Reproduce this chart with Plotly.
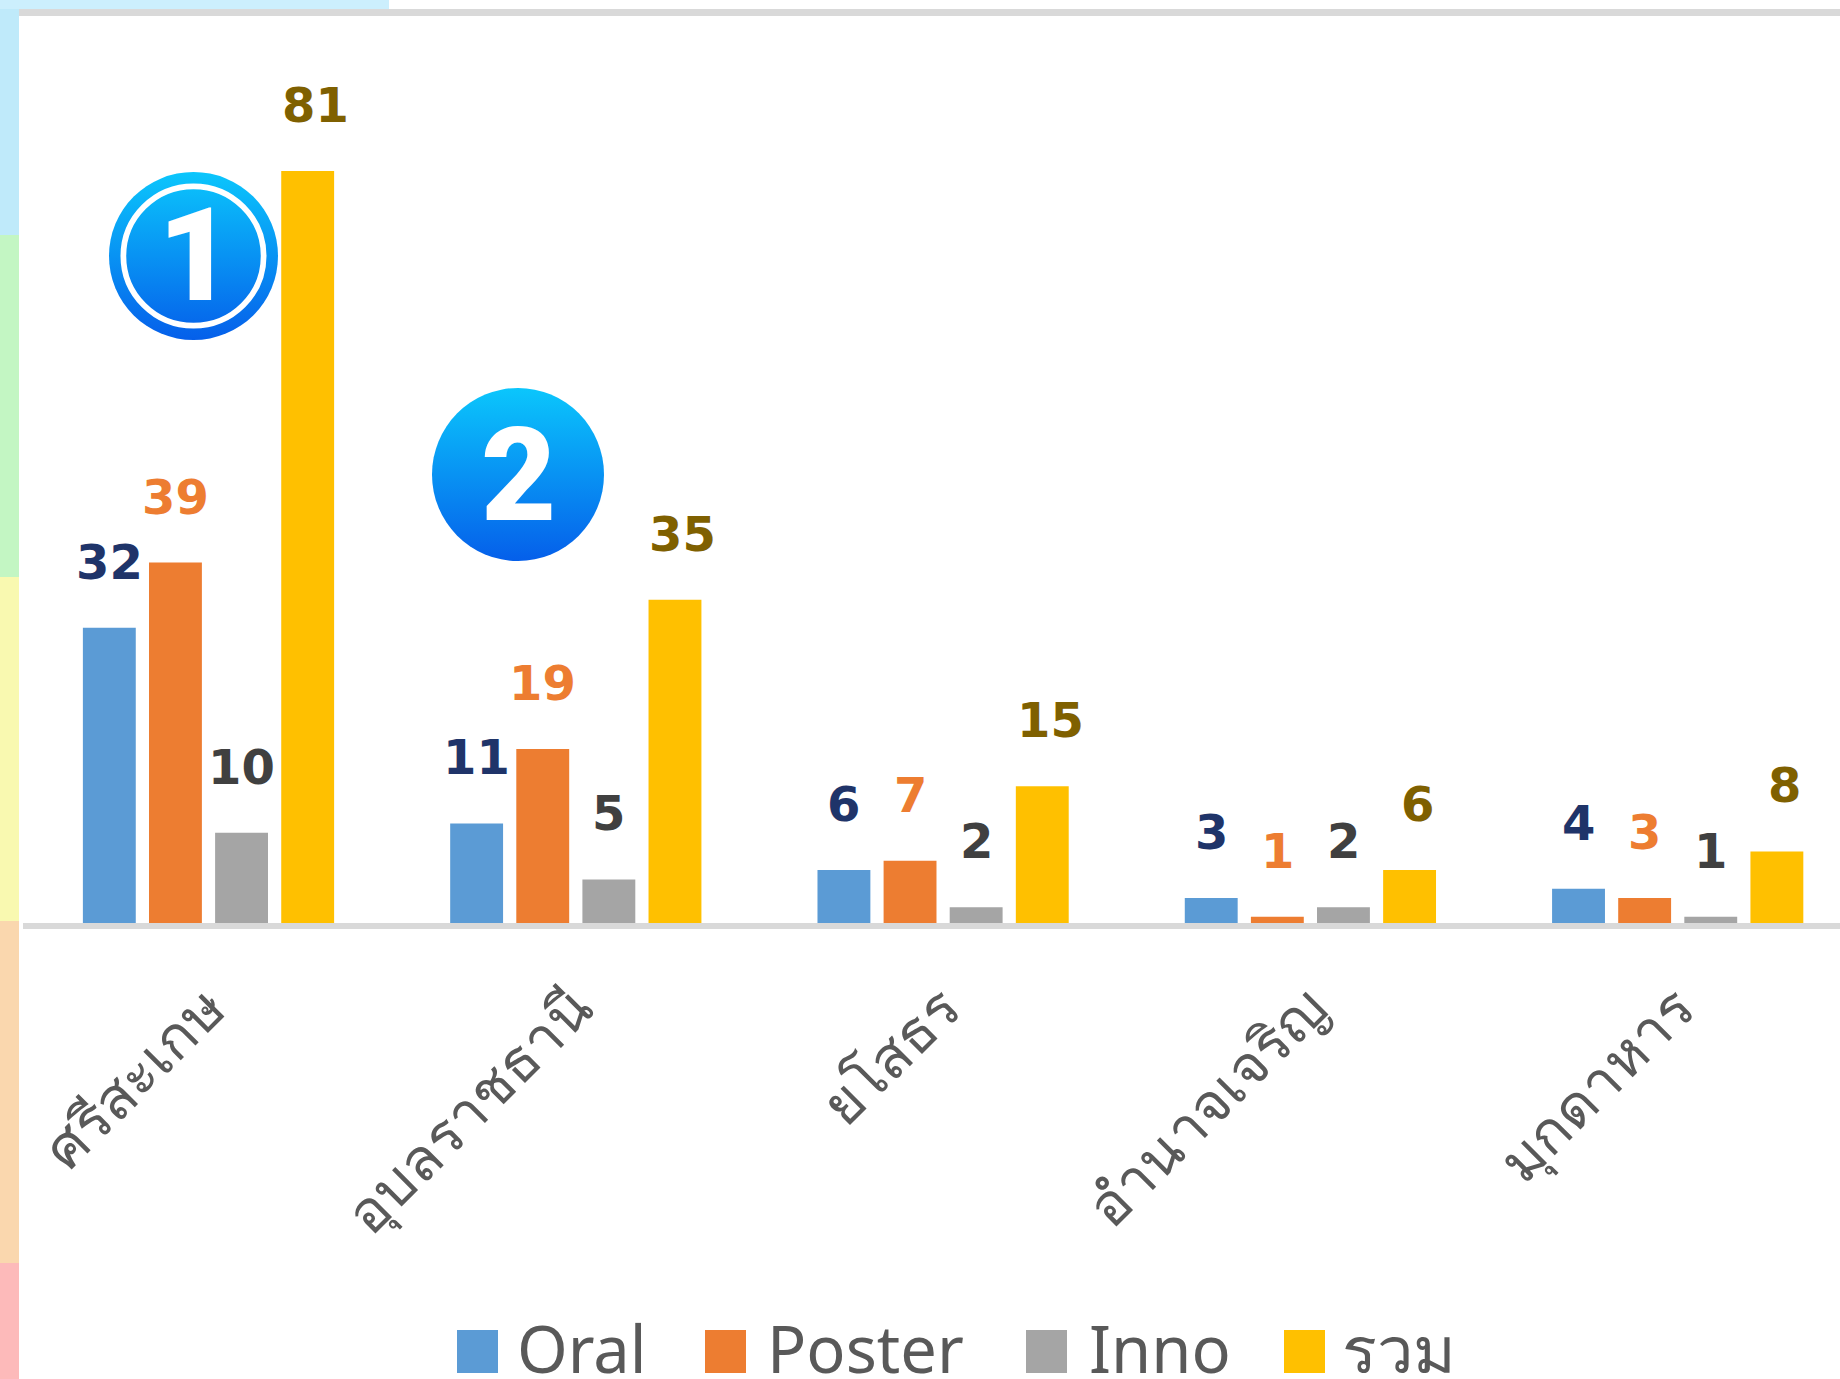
import base64
import plotly.graph_objects as go

# ---- data ----
categories = ["ศรีสะเกษ", "อุบลราชธานี", "ยโสธร", "อำนาจเจริญ", "มุกดาหาร"]
series_names = ["Oral", "Poster", "Inno", "รวม"]
oral = [32, 11, 6, 3, 4]
poster = [39, 19, 7, 1, 3]
inno = [10, 5, 2, 2, 1]
total = [81, 35, 15, 6, 8]
all_values = [oral, poster, inno, total]
bar_colors = ["#5B9BD5", "#ED7D31", "#A5A5A5", "#FFC000"]
label_colors = ["#1F3469", "#ED7D31", "#404040", "#7F6000"]
label_xshift = [0, 0, 0, 8]

# ---- page geometry (pixels) ----
W, H = 1840, 1379
L, T, B = 23, 16, 923
PW, PH = W - L, B - T
BARGAP = 0.28
SLOT = (1 - BARGAP) / 4
PX_PER_UNIT = 9.32
PERIOD = 367.3
C0 = 208.5

def px(x):
    return (x - L) / PW

def py(y):
    return (B - y) / PH

def rect(x0, y0, x1, y1, color):
    return dict(type="rect", xref="paper", yref="paper", x0=px(x0), x1=px(x1), y0=py(y0), y1=py(y1),
                fillcolor=color, line_width=0, layer="below")

def badge(ring):
    inner = ('<circle cx="50" cy="50" r="41.5" fill="none" stroke="white" stroke-width="3.4"/>' if ring else "")
    svg = ('<svg xmlns="http://www.w3.org/2000/svg" viewBox="0 0 100 100">'
           '<defs><linearGradient id="g" x1="0" y1="0" x2="0" y2="1">'
           '<stop offset="0" stop-color="#0BC6FC"/><stop offset="1" stop-color="#055FEA"/>'
           '</linearGradient></defs><circle cx="50" cy="50" r="50" fill="url(#g)"/>' + inner + '</svg>')
    return "data:image/svg+xml;base64," + base64.b64encode(svg.encode()).decode()

def badge_image(x0, y0, x1, y1, ring):
    return dict(source=badge(ring), xref="paper", yref="paper", x=px(x0), y=py(y0),
                sizex=(x1 - x0) / PW, sizey=(y1 - y0) / PH, xanchor="left", yanchor="top",
                sizing="stretch", layer="above")

fig = go.Figure()
for name, vals, col in zip(series_names, all_values, bar_colors):
    fig.add_bar(name=name, x=categories, y=vals, marker_color=col, marker_line_width=0, showlegend=False)

annotations = []
for s, (vals, col) in enumerate(zip(all_values, label_colors)):
    for i, v in enumerate(vals):
        annotations.append(dict(x=i + (s - 1.5) * SLOT, y=v, xref="x", yref="y", text=str(v), showarrow=False,
                                yshift=66, xshift=label_xshift[s], xanchor="center", yanchor="middle",
                                font=dict(family="DejaVu Sans", size=48, color=col, weight="bold")))

# digits on the rank badges
for txt, cx, cy in [("1", 195, 256), ("2", 518, 475)]:
    annotations.append(dict(x=px(cx), y=py(cy), xref="paper", yref="paper", text=txt, showarrow=False,
                            xanchor="center", yanchor="middle",
                            font=dict(family="Roboto", size=130, color="white", weight=900)))

# legend
legend_swatch_x = [457, 705, 1026, 1284]
legend_text_x = [515, 765, 1087, 1340]
shapes = [
    rect(0, 0, 19, 235, "#BFEAFA"), rect(0, 235, 19, 577, "#C3F6C3"), rect(0, 577, 19, 921, "#F9F9B0"),
    rect(0, 921, 19, 1263, "#FAD7AE"), rect(0, 1263, 19, H, "#FDBABA"),
    rect(0, 0, 389, 9, "#CCEFFD"), rect(19, 9, W, 16, "#D9D9D9"),
]
for name, col, sx, tx in zip(series_names, bar_colors, legend_swatch_x, legend_text_x):
    shapes.append(rect(sx, 1330, sx + 41, 1373, col))
    annotations.append(dict(x=px(tx), y=py(1348), xref="paper", yref="paper", text=name, showarrow=False,
                            xanchor="left", yanchor="middle",
                            font=dict(family="Noto Sans", size=65, color="#595959")))

fig.update_layout(
    width=W, height=H, margin=dict(l=L, r=0, t=T, b=H - B, autoexpand=False),
    paper_bgcolor="white", plot_bgcolor="white",
    barmode="group", bargap=BARGAP, bargroupgap=0.2,
    shapes=shapes, annotations=annotations,
    images=[badge_image(109, 172, 278, 340, True), badge_image(432, 388, 604, 561, False)],
)
fig.update_xaxes(type="category", categoryorder="array", categoryarray=categories,
                 range=[(L - C0) / PERIOD, (W - C0) / PERIOD],
                 showline=True, linecolor="#D9D9D9", linewidth=6, showgrid=False, zeroline=False,
                 ticks="outside", ticklen=22, tickcolor="rgba(0,0,0,0)", tickangle=-45, automargin=False,
                 tickfont=dict(family="Noto Sans, DejaVu Sans", size=58, color="#595959"))
fig.update_yaxes(range=[3 / PX_PER_UNIT, 3 / PX_PER_UNIT + PH / PX_PER_UNIT], visible=False)

fig.write_html("out.html", config=dict(displayModeBar=False),
               post_script="document.body.style.margin='0';document.documentElement.style.overflow='hidden';")
